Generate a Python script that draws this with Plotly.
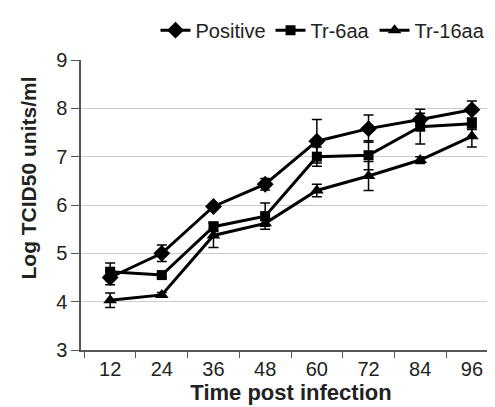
import plotly.graph_objects as go

hours = ["12", "24", "36", "48", "60", "72", "84", "96"]
positive = [4.50, 5.00, 5.97, 6.43, 7.32, 7.58, 7.77, 7.97]
positive_err = [0.15, 0.17, 0.05, 0.12, 0.45, 0.28, 0.13, 0.18]
tr6 = [4.62, 4.55, 5.55, 5.77, 7.00, 7.03, 7.62, 7.68]
tr6_err = [0.18, 0.05, 0.10, 0.27, 0.20, 0.30, 0.36, 0.12]
tr16 = [4.03, 4.14, 5.37, 5.62, 6.30, 6.60, 6.93, 7.42]
tr16_err = [0.15, 0.05, 0.25, 0.06, 0.13, 0.30, 0.07, 0.22]

series = [
    ("Positive", positive, positive_err, "diamond", 13),
    ("Tr-6aa", tr6, tr6_err, "square", 10),
    ("Tr-16aa", tr16, tr16_err, "triangle-up", 12),
]

fig = go.Figure()
for name, vals, errs, sym, size in series:
    fig.add_trace(go.Scatter(
        x=hours, y=vals, name=name, mode="lines+markers",
        line=dict(color="black", width=3),
        marker=dict(symbol=sym, size=size, color="black"),
        error_y=dict(type="data", array=errs, visible=True,
                     color="black", thickness=1.5, width=5),
    ))

font = "Liberation Sans, Arial, sans-serif"
fig.update_layout(
    width=495, height=407,
    margin=dict(l=73, r=2, t=52, b=65),
    paper_bgcolor="white", plot_bgcolor="white",
    font=dict(family=font, size=20, color="#222"),
    showlegend=True,
    legend=dict(orientation="h", x=0.975, xanchor="right", y=1.103,
                yanchor="middle", yref="paper",
                font=dict(size=20, color="#222"),
                itemwidth=30, tracegroupgap=0, bgcolor="rgba(0,0,0,0)"),
    xaxis=dict(type="category", tickson="boundaries", ticks="outside",
               ticklen=6, tickcolor="#555", showline=True, linecolor="#555",
               linewidth=1.5, showgrid=False, tickfont=dict(size=20),
               title=dict(text="<b>Time post infection</b>", font=dict(size=22),
                          standoff=4)),
    yaxis=dict(range=[3, 9], dtick=1, ticks="outside", ticklen=8,
               tickcolor="#555", showline=True, linecolor="#555",
               linewidth=1.5, showgrid=True, gridcolor="#ccc", gridwidth=1,
               zeroline=False, tickfont=dict(size=20)),
    annotations=[dict(text="<b>Log TCID50 units/ml</b>", textangle=-90,
                      xref="paper", yref="paper", x=-0.125, y=0.593,
                      xanchor="center", yanchor="middle", showarrow=False,
                      font=dict(size=21, color="#222"))],
)
fig.write_html("out.html")
